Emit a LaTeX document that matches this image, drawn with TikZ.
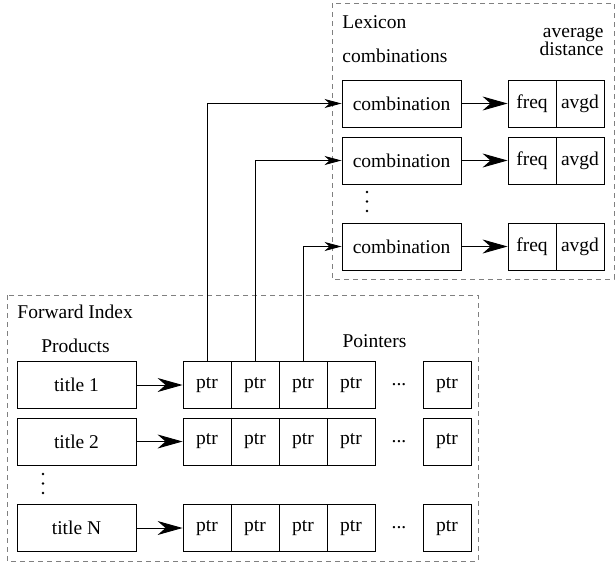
\documentclass[tikz,border=0pt]{standalone}
\usepackage{fontspec}
\setmainfont{Liberation Serif}
\usetikzlibrary{arrows.meta}
\tikzset{cell/.style={draw, minimum width=48pt, minimum height=47pt, inner sep=0pt},
  wide/.style={draw, minimum width=119pt, minimum height=47pt, inner sep=0pt},
  label/.style={inner sep=0pt},
  region/.style={draw=gray, dash pattern=on 5pt off 4pt},
  bigarrow/.style={-{Stealth[length=25pt,width=14pt,inset=8pt]}},
  ptrarrow/.style={-{Stealth[length=17pt,width=9pt,inset=5pt]}}}

\begin{document}
\begin{tikzpicture}[x=1pt,y=-1pt,line width=0.9pt,font=\fontsize{19.5}{22}\selectfont]
            \useasboundingbox (0,0) rectangle (616,565);
            % lexicon
            \draw[region] (332,3) rectangle (614,279);
            \node[label,anchor=base west] (lex) at (342,28) {Lexicon}; \node[label,anchor=base west] (combs) at (342,62) {combinations};
            \node[label,anchor=base east] (avg) at (604,37) {average}; \node[label,anchor=base east] (dist) at (604,55) {distance};
            \node[wide] (c1) at (401.5,103.5) {combination}; \node[cell] (f1) at (532,103.5) {freq}; \node[cell] (a1) at (580,103.5) {avgd};
            \node[wide] (c2) at (401.5,160.5) {combination}; \node[cell] (f2) at (532,160.5) {freq}; \node[cell] (a2) at (580,160.5) {avgd};
            \node[wide] (c3) at (401.5,246.5) {combination}; \node[cell] (f3) at (532,246.5) {freq}; \node[cell] (a3) at (580,246.5) {avgd};
            \fill (367,192) circle (1.3pt); \fill (367,201.5) circle (1.3pt); \fill (367,211) circle (1.3pt);
            \draw[bigarrow] (c1) -- (f1); \draw[bigarrow] (c2) -- (f2); \draw[bigarrow] (c3) -- (f3);

            % forward index
            \draw[region] (7,295) rectangle (478,561);
            \node[label,anchor=base west] (fwd) at (17,318) {Forward Index}; \node[label,anchor=base] (prod) at (75.5,352) {Products}; \node[label,anchor=base] (ptrs) at (374.5,347) {Pointers};
            \node[wide] (t1) at (76.5,385) {title 1}; \node[cell] (p11) at (207,385) {ptr}; \node[cell] (p12) at (255,385) {ptr}; \node[cell] (p13) at (303,385) {ptr}; \node[cell] (p14) at (351,385) {ptr}; \node[label] (d1) at (399,385) {...}; \node[cell] (p1n) at (447,385) {ptr};
            \node[wide] (t2) at (76.5,441.5) {title 2}; \node[cell] (p21) at (207,441.5) {ptr}; \node[cell] (p22) at (255,441.5) {ptr}; \node[cell] (p23) at (303,441.5) {ptr}; \node[cell] (p24) at (351,441.5) {ptr}; \node[label] (d2) at (399,441.5) {...}; \node[cell] (p2n) at (447,441.5) {ptr};
            \node[wide] (tn) at (76.5,528) {title N}; \node[cell] (pn1) at (207,528) {ptr}; \node[cell] (pn2) at (255,528) {ptr}; \node[cell] (pn3) at (303,528) {ptr}; \node[cell] (pn4) at (351,528) {ptr}; \node[label] (dn) at (399,528) {...}; \node[cell] (pnn) at (447,528) {ptr};
            \fill (43,474) circle (1.3pt); \fill (43,483.5) circle (1.3pt); \fill (43,493) circle (1.3pt);
            \draw[bigarrow] (t1) -- (p11); \draw[bigarrow] (t2) -- (p21); \draw[bigarrow] (tn) -- (pn1);

            % pointers into the lexicon
            \draw[ptrarrow] (p11.north) |- (c1.west); \draw[ptrarrow] (p12.north) |- (c2.west); \draw[ptrarrow] (p13.north) |- (c3.west);
        \end{tikzpicture}
\end{document}
